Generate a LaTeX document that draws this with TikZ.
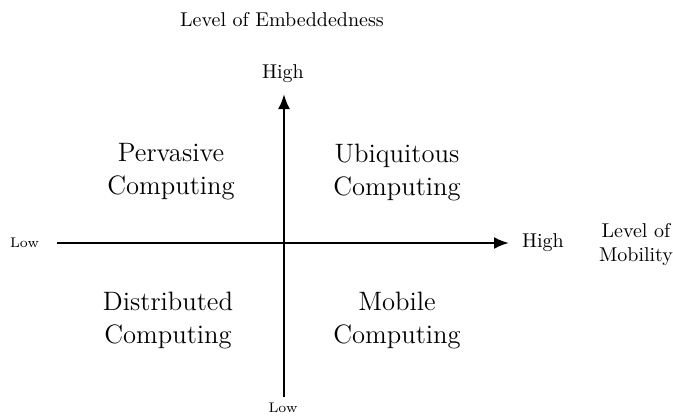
\documentclass[tikz,border=0pt]{standalone}
\usetikzlibrary{arrows.meta}
\begin{document}
\begin{tikzpicture}[x=0.5pt,y=-0.5pt,
  axis/.style={line width=1.2pt,-{Latex[length=7.5pt,width=6pt]}},
  quad/.style={align=center,font=\fontsize{13.3}{16.5}\selectfont},
  lbl/.style={font=\normalsize},
  small/.style={font=\scriptsize}]
\useasboundingbox (0,0) rectangle (673,417);
\coordinate (xl) at (57,243);
\coordinate (xr) at (509,243);
\coordinate (yb) at (284,397);
\coordinate (yt) at (284,94);
\draw[axis] (xl) -- (xr);
\draw[axis] (yb) -- (yt);
\node[small,anchor=east] (lowx) at (46,243) {Low};
\node[lbl,anchor=west] (highx) at (515,243) {High};
\node[lbl,align=center] (mob) at (636,244) {Level of\\Mobility};
\node[lbl] (highy) at (283,74) {High};
\node[small] (lowy) at (283,408) {Low};
\node[lbl] (emb) at (282,20) {Level of Embeddedness};
\node[quad] (perv) at (171,172) {Pervasive\\Computing};
\node[quad] (ubi) at (397,172) {Ubiquitous\\Computing};
\node[quad] (dist) at (168,320) {Distributed\\Computing};
\node[quad] (mobc) at (397,320) {Mobile\\Computing};
\end{tikzpicture}
\end{document}
